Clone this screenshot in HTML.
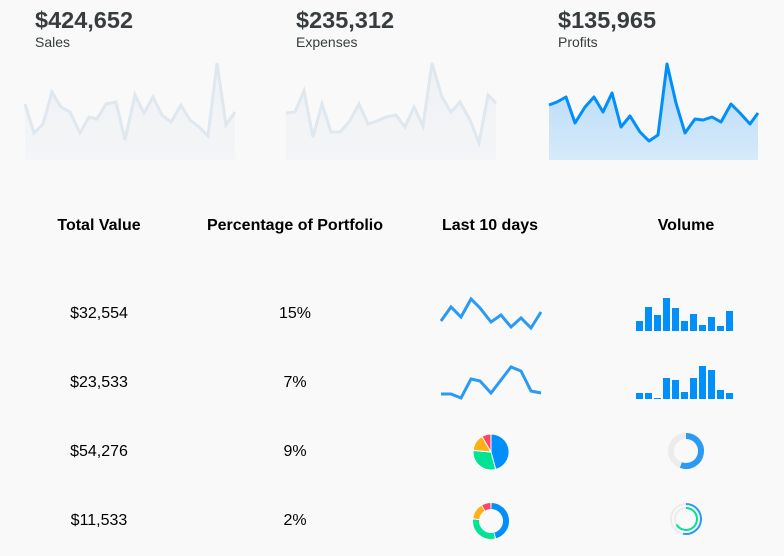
<!DOCTYPE html>
<html><head><meta charset="utf-8"><style>
html,body{margin:0;padding:0;background:#f9f9f9;}
svg{display:block;font-family:"Liberation Sans",Arial,sans-serif;}
</style></head><body>
<svg width="784" height="556" viewBox="0 0 784 556" xmlns="http://www.w3.org/2000/svg">
<defs>
<linearGradient id="gg" x1="0" y1="0" x2="0" y2="1"><stop offset="0" stop-color="#eef1f5"/><stop offset="1" stop-color="#f4f5f7"/></linearGradient>
<linearGradient id="gb" x1="0" y1="0" x2="0" y2="1"><stop offset="0" stop-color="#b3d8f7"/><stop offset="1" stop-color="#d6eafa"/></linearGradient>
</defs>
<rect width="784" height="556" fill="#f9f9f9"/>
<g fill="#373d3f">
<text x="35" y="28" font-size="23.5" font-weight="bold">$424,652</text>
<text x="35" y="47" font-size="14">Sales</text>
<text x="296" y="28" font-size="23.5" font-weight="bold">$235,312</text>
<text x="296" y="47" font-size="14">Expenses</text>
<text x="558" y="28" font-size="23.5" font-weight="bold">$135,965</text>
<text x="558" y="47" font-size="14">Profits</text>
</g>
<polygon fill="url(#gg)" points="25,160 25,104 34,133 43,124 52,92 61,107 70,112 80,133 89,117 97,119 106,104 116,102 125,140 135,95 144,113 153,97 162,115 171,122 181,105 190,120 199,127 208,136 217,63 226,125 235,112 235,160"/>
<polyline fill="none" stroke="#dfe7ef" stroke-width="3" points="25,104 34,133 43,124 52,92 61,107 70,112 80,133 89,117 97,119 106,104 116,102 125,140 135,95 144,113 153,97 162,115 171,122 181,105 190,120 199,127 208,136 217,63 226,125 235,112"/>
<polygon fill="url(#gg)" points="286,160 286,113 295,112 304,91 313,137 322,104 331,132 340,132 349,122 359,104 368,124 377,121 386,117 396,115 405,127 414,107 423,126 432,63 442,97 451,112 460,102 470,120 479,143 488,95 496,103 496,160"/>
<polyline fill="none" stroke="#dfe7ef" stroke-width="3" points="286,113 295,112 304,91 313,137 322,104 331,132 340,132 349,122 359,104 368,124 377,121 386,117 396,115 405,127 414,107 423,126 432,63 442,97 451,112 460,102 470,120 479,143 488,95 496,103"/>
<polygon fill="url(#gb)" points="549,160 549,105 557,102 566,97 575,123 585,107 594,97 603,112 612,93 621,127 630,116 640,132 649,141 658,135 667,64 676,103 685,133 695,119 703,120 712,117 721,122 731,104 740,113 750,124 758,113 758,160"/>
<polyline fill="none" stroke="#008ffb" stroke-width="3" stroke-linejoin="round" points="549,105 557,102 566,97 575,123 585,107 594,97 603,112 612,93 621,127 630,116 640,132 649,141 658,135 667,64 676,103 685,133 695,119 703,120 712,117 721,122 731,104 740,113 750,124 758,113"/>

<g font-size="16" font-weight="bold" fill="#000" text-anchor="middle">
<text x="99" y="230">Total Value</text>
<text x="295" y="230">Percentage of Portfolio</text>
<text x="490" y="230">Last 10 days</text>
<text x="686" y="230">Volume</text>
</g>
<g font-size="16" fill="#000" text-anchor="middle">
<text x="99" y="318">$32,554</text><text x="295" y="318">15%</text>
<text x="99" y="387">$23,533</text><text x="295" y="387">7%</text>
<text x="99" y="456">$54,276</text><text x="295" y="456">9%</text>
<text x="99" y="525">$11,533</text><text x="295" y="525">2%</text>
</g>
<polyline fill="none" stroke="#2b9af3" stroke-width="3" points="441,321 451,307 461,317 471,299 480,308 491,322 501,315 511,327 521,318 531,328 541,312"/>
<polyline fill="none" stroke="#2b9af3" stroke-width="3" points="441,394 451,394 461,398 471,379 480,381 491,393 501,380 511,367 521,371 531,391 541,393"/>
<g fill="#008ffb">
<rect x="636" y="321" width="7" height="10"/><rect x="645" y="307" width="7" height="24"/><rect x="654" y="315" width="7" height="16"/><rect x="663" y="298" width="7" height="33"/><rect x="672" y="308" width="7" height="23"/><rect x="681" y="321" width="7" height="10"/><rect x="690" y="314" width="7" height="17"/><rect x="699" y="325" width="7" height="6"/><rect x="708" y="317" width="7" height="14"/><rect x="717" y="326" width="7" height="5"/><rect x="726" y="311" width="7" height="20"/>
<rect x="636" y="393" width="7" height="6"/><rect x="645" y="393" width="7" height="6"/><rect x="654" y="398" width="7" height="1"/><rect x="663" y="378" width="7" height="21"/><rect x="672" y="380" width="7" height="19"/><rect x="681" y="392" width="7" height="7"/><rect x="690" y="378" width="7" height="21"/><rect x="699" y="366" width="7" height="33"/><rect x="708" y="370" width="7" height="29"/><rect x="717" y="390" width="7" height="9"/><rect x="726" y="393" width="7" height="6"/>
</g>
<g transform="translate(491,452)" stroke="#fff" stroke-width="1">
<path d="M0,0 L0,-18 A18,18 0 0 1 4.7,17.4 Z" fill="#008ffb"/>
<path d="M0,0 L4.7,17.4 A18,18 0 0 1 -17.9,-1.6 Z" fill="#00e396"/>
<path d="M0,0 L-17.9,-1.6 A18,18 0 0 1 -9,-15.6 Z" fill="#feb019"/>
<path d="M0,0 L-9,-15.6 A18,18 0 0 1 0,-18 Z" fill="#ff4560"/>
</g>
<g transform="translate(491,521)" fill="none" stroke-width="6">
<path d="M0.5,-15 A15,15 0 0 1 4.2,14.4" stroke="#008ffb"/>
<path d="M3.2,14.6 A15,15 0 0 1 -14.9,-1.3" stroke="#00e396"/>
<path d="M-14.8,-2.4 A15,15 0 0 1 -8.2,-12.6" stroke="#feb019"/>
<path d="M-7.3,-13.1 A15,15 0 0 1 -0.5,-15" stroke="#ff4560"/>
</g>
<g transform="translate(686,451)" fill="none">
<circle r="15" stroke="#ececec" stroke-width="6"/>
<path d="M0,-15 A15,15 0 1 1 -5.1,14.1" stroke="#2b9af3" stroke-width="6"/>
</g>
<g transform="translate(686,519)" fill="none" stroke-width="2">
<circle r="15" stroke="#ececec"/>
<circle r="11" stroke="#ececec"/>
<path d="M0,-15 A15,15 0 1 1 -3,14.7" stroke="#2b9af3"/>
<path d="M0,-11 A11,11 0 1 1 -9.5,5.5" stroke="#00e396"/>
</g>
</svg>
</body></html>
